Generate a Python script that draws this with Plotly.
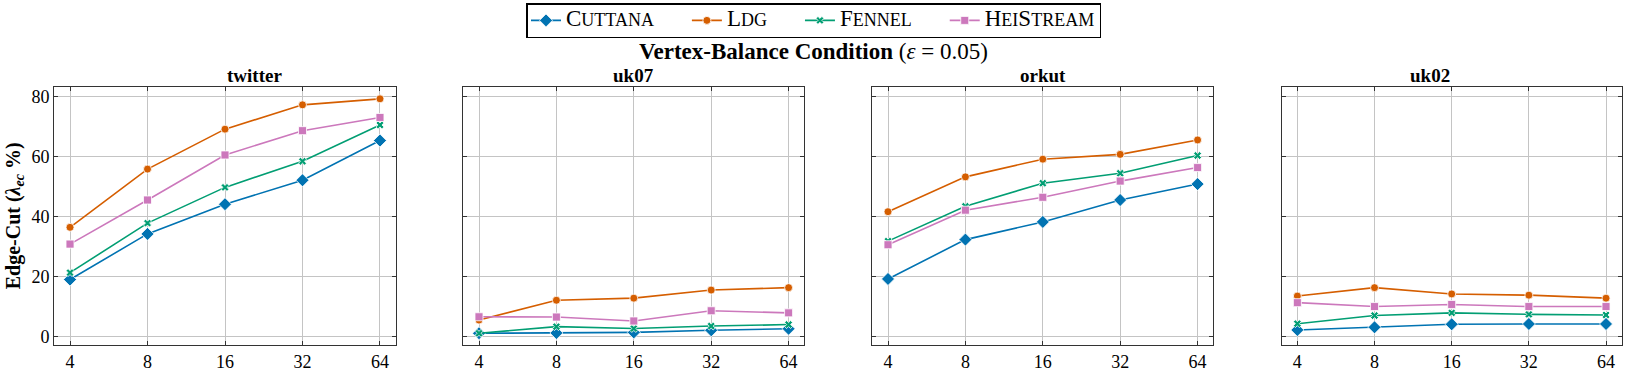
import numpy as np
import plotly.graph_objects as go

# number of partitions (x) and the four graphs
parts = [4, 8, 16, 32, 64]
graphs = ["twitter", "uk07", "orkut", "uk02"]

# edge-cut values (%), one list per graph
cuttana = {
    "twitter": [19.1, 34.3, 44.2, 52.2, 65.4],
    "uk07": [1.2, 1.3, 1.5, 2.2, 2.7],
    "orkut": [19.3, 32.4, 38.3, 45.6, 50.9],
    "uk02": [2.3, 3.2, 4.2, 4.3, 4.3],
}
ldg = {
    "twitter": [36.5, 55.9, 69.2, 77.3, 79.3],
    "uk07": [5.6, 12.2, 12.9, 15.6, 16.4],
    "orkut": [41.7, 53.3, 59.2, 60.8, 65.6],
    "uk02": [13.6, 16.4, 14.3, 13.9, 12.9],
}
fennel = {
    "twitter": [21.4, 37.9, 49.8, 58.5, 70.6],
    "uk07": [1.2, 3.4, 2.8, 3.6, 4.1],
    "orkut": [31.9, 43.5, 51.2, 54.5, 60.4],
    "uk02": [4.4, 7.1, 8.0, 7.5, 7.3],
}
heistream = {
    "twitter": [30.9, 45.6, 60.6, 68.7, 73.1],
    "uk07": [6.7, 6.6, 5.3, 8.7, 8.0],
    "orkut": [30.7, 42.2, 46.5, 51.9, 56.4],
    "uk02": [11.4, 10.1, 10.8, 10.1, 10.1],
}

FONT = "Liberation Serif"
BIG, SC = 23, 18  # capital / small caps sizes in the legend
PAD = "&nbsp;" * 8


def cap(s):
    return "<span style='font-size:%dpx'>%s</span>" % (BIG, s)


def sc(s):
    return "<span style='font-size:%dpx'>%s</span>" % (SC, s)


series = [
    (cap("C") + sc("UTTANA") + PAD, cuttana, "#0173B2", "diamond", 10),
    (cap("L") + sc("DG") + PAD, ldg, "#D55E00", "circle", 8),
    (cap("F") + sc("ENNEL") + PAD, fennel, "#029E73", "x", 7),
    (cap("H") + sc("EI") + cap("S") + sc("TREAM"), heistream, "#CC78BC", "square", 8),
]

W, H = 1627, 372
# subplot frames in pixels (left, right), top/bottom
frames = [(54.3, 395.7), (463.3, 804.3), (872.3, 1213.3), (1281.7, 1621.7)]
top_px, bot_px = 87.3, 346.7

fig = go.Figure()

for i, g in enumerate(graphs):
    ax = "" if i == 0 else str(i + 1)
    for name, data, color, sym, size in series:
        fig.add_trace(go.Scatter(
            x=parts, y=data[g], mode="lines+markers", name=name,
            line=dict(color=color, width=1.6),
            marker=dict(symbol=sym, size=size, color=color,
                        line=dict(color="white", width=0.8)),
            showlegend=(i == 0), legendgroup=name,
            xaxis="x" + ax, yaxis="y" + ax))

    l, r = frames[i]
    axis_common = dict(showline=True, linecolor="#333333", linewidth=1.2, mirror="ticks",
                       ticks="inside", ticklen=4, tickcolor="#333333",
                       showgrid=True, gridcolor="#c4c4c4", gridwidth=0.9,
                       zeroline=False, tickfont=dict(family=FONT, size=18, color="black"))
    fig.layout["xaxis" + ax] = dict(
        axis_common, type="log", domain=[l / W, r / W],
        range=[np.log10(2 ** 1.797), np.log10(2 ** 6.203)],
        tickvals=parts, ticktext=[str(p) for p in parts],
        anchor="y" + ax)
    fig.layout["yaxis" + ax] = dict(
        axis_common, domain=[(H - bot_px) / H, (H - top_px) / H],
        range=[-2.65, 83.3], tickvals=[0, 20, 40, 60, 80],
        showticklabels=(i == 0), anchor="x" + ax)

    fig.add_annotation(text="<b>%s</b>" % g, x=(l + r) / 2 / W, y=(H - 76) / H,
                       xref="paper", yref="paper", showarrow=False, yanchor="middle",
                       font=dict(family=FONT, size=19, color="black"))

fig.layout.yaxis.title = dict(text="<b>Edge-Cut (<i>λ</i><sub><i>ec</i></sub> %)</b>",
                              font=dict(family=FONT, size=20, color="black"), standoff=5)

fig.add_annotation(text="<b>Vertex-Balance Condition</b> (<i>ε</i> = 0.05)",
                   x=0.5, y=(H - 52) / H, xref="paper", yref="paper", showarrow=False,
                   yanchor="middle",
                   font=dict(family=FONT, size=23, color="black"))

fig.update_layout(
    width=W, height=H,
    margin=dict(l=0, r=0, t=0, b=0),
    plot_bgcolor="white", paper_bgcolor="white",
    legend=dict(orientation="h", x=0.5, xanchor="center", y=(H - 3.3) / H, yanchor="top",
                bordercolor="black", borderwidth=1.5, bgcolor="white",
                font=dict(family=FONT, size=14, color="black"),
                itemwidth=30, tracegroupgap=0),
)

fig.write_html("out.html", config={"displayModeBar": False},
               post_script="document.body.style.margin='0';")
